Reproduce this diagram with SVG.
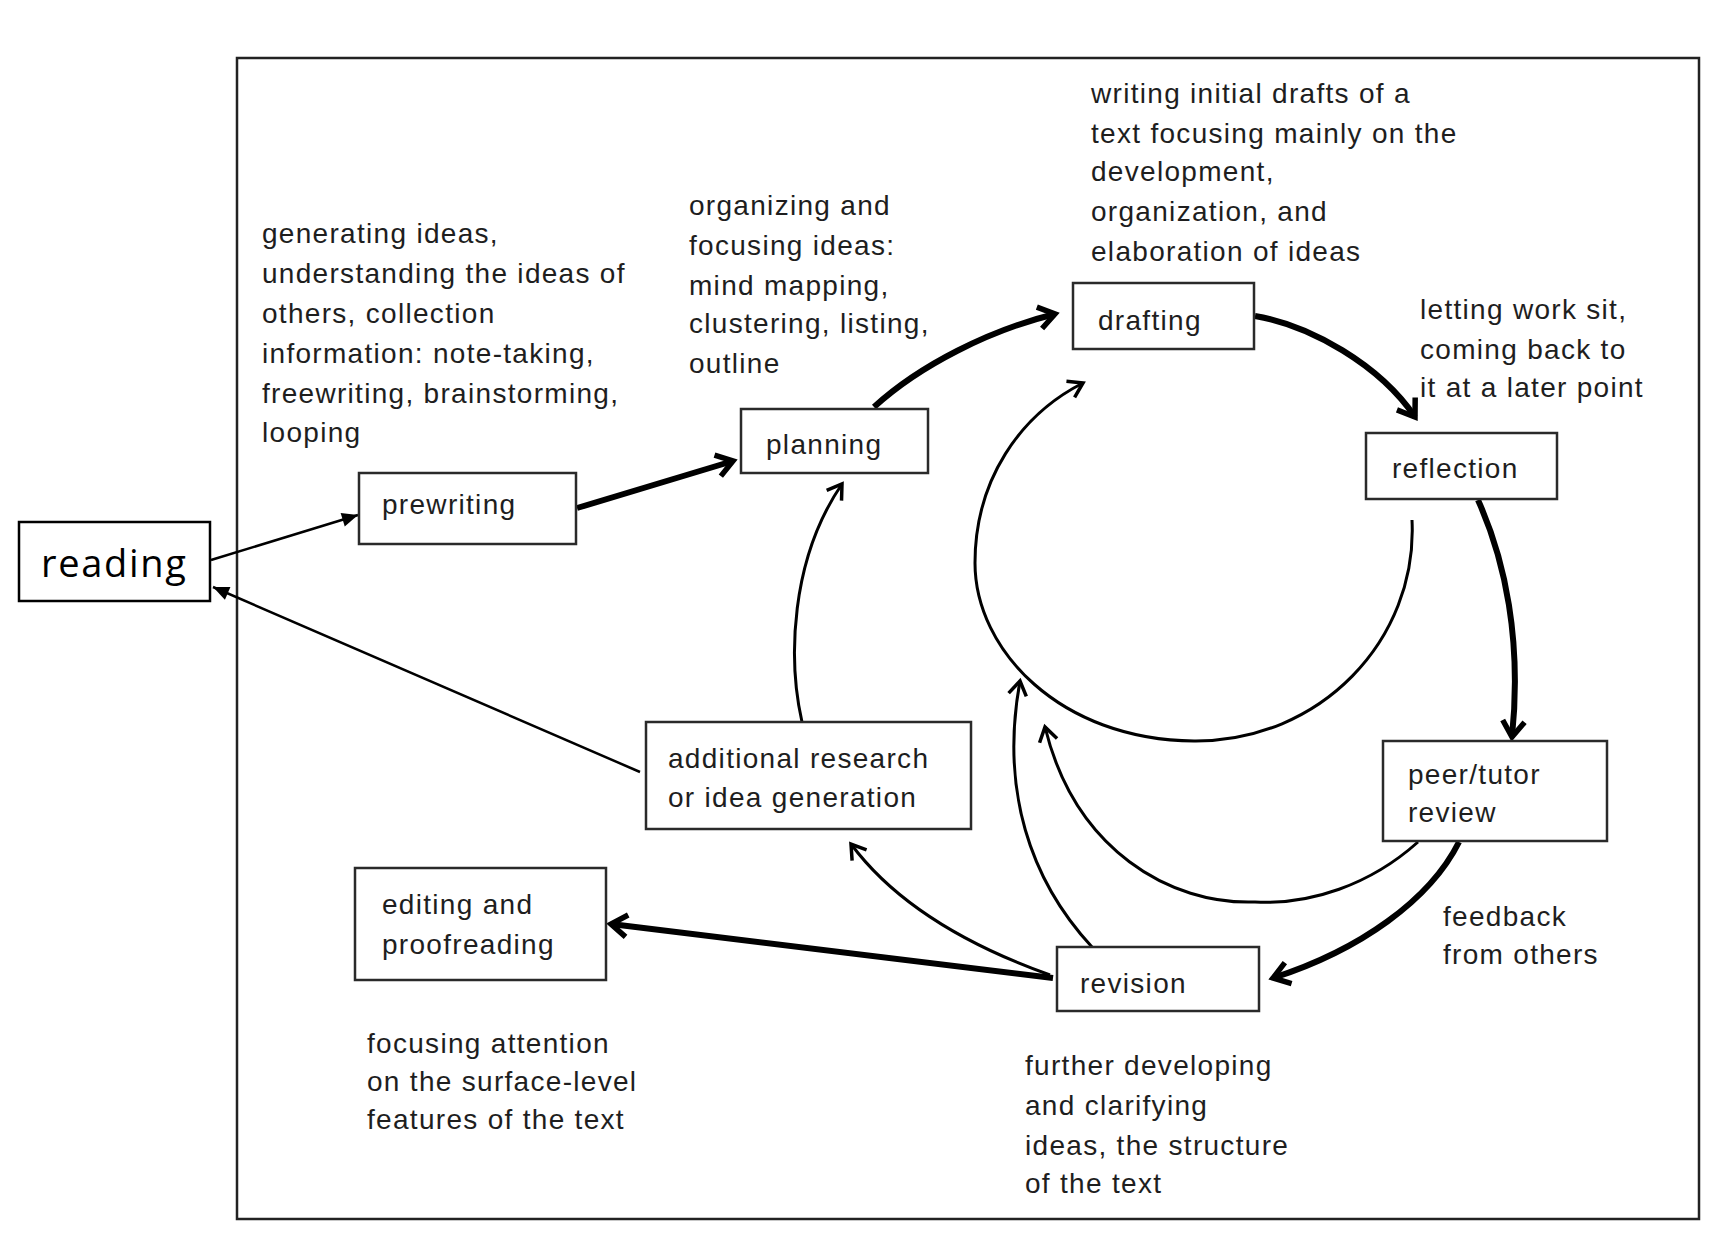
<svg xmlns="http://www.w3.org/2000/svg" width="1728" height="1250" viewBox="0 0 1728 1250">
<defs>
<style>
.t{font-family:"Liberation Sans",Arial,sans-serif;font-size:28px;letter-spacing:1.3px;fill:#1e1e1e}
.box{fill:#fff;stroke:#2a2a2a;stroke-width:2.5}
.thick{fill:none;stroke:#000;stroke-width:6}
.thin{fill:none;stroke:#000;stroke-width:3}
.fine{fill:none;stroke:#000;stroke-width:2.5}
</style>
<marker id="vthick" markerUnits="userSpaceOnUse" markerWidth="40" markerHeight="40" refX="0" refY="0" viewBox="-20 -20 40 40" orient="auto" overflow="visible">
<path d="M -16 -11 L 0 0 L -16 11" fill="none" stroke="#000" stroke-width="5.5"/>
</marker>
<marker id="vthin" markerUnits="userSpaceOnUse" markerWidth="40" markerHeight="40" refX="0" refY="0" viewBox="-20 -20 40 40" orient="auto" overflow="visible">
<path d="M -14 -9 L 0 0 L -14 9" fill="none" stroke="#000" stroke-width="3.5"/>
</marker>
<marker id="tri" markerUnits="userSpaceOnUse" markerWidth="40" markerHeight="40" refX="0" refY="0" viewBox="-20 -20 40 40" orient="auto" overflow="visible">
<path d="M -16 -7 L 0 0 L -16 7 z" fill="#000"/>
</marker>
</defs>
<rect width="1728" height="1250" fill="#fff"/>
<rect id="frame" x="237" y="58" width="1462" height="1161" fill="none" stroke="#222" stroke-width="2.5"/>

<g id="descriptions">
<text class="t" x="262" y="243">generating ideas,</text>
<text class="t" x="262" y="283">understanding the ideas of</text>
<text class="t" x="262" y="323">others, collection</text>
<text class="t" x="262" y="363">information: note-taking,</text>
<text class="t" x="262" y="403">freewriting, brainstorming,</text>
<text class="t" x="262" y="442">looping</text>

<text class="t" x="689" y="215">organizing and</text>
<text class="t" x="689" y="255">focusing ideas:</text>
<text class="t" x="689" y="295">mind mapping,</text>
<text class="t" x="689" y="333">clustering, listing,</text>
<text class="t" x="689" y="373">outline</text>

<text class="t" x="1091" y="103">writing initial drafts of a</text>
<text class="t" x="1091" y="143">text focusing mainly on the</text>
<text class="t" x="1091" y="181">development,</text>
<text class="t" x="1091" y="221">organization, and</text>
<text class="t" x="1091" y="261">elaboration of ideas</text>

<text class="t" x="1420" y="319">letting work sit,</text>
<text class="t" x="1420" y="359">coming back to</text>
<text class="t" x="1420" y="397">it at a later point</text>

<text class="t" x="1443" y="926">feedback</text>
<text class="t" x="1443" y="964">from others</text>

<text class="t" x="1025" y="1075">further developing</text>
<text class="t" x="1025" y="1115">and clarifying</text>
<text class="t" x="1025" y="1155">ideas, the structure</text>
<text class="t" x="1025" y="1193">of the text</text>

<text class="t" x="367" y="1053">focusing attention</text>
<text class="t" x="367" y="1091">on the surface-level</text>
<text class="t" x="367" y="1129">features of the text</text>
</g>

<g id="connectors">
<path class="fine" d="M 211 560 L 358 515" marker-end="url(#tri)"/>
<path class="fine" d="M 640 772 L 213 587" marker-end="url(#tri)"/>
<path class="thick" d="M 577 508 L 733 461" marker-end="url(#vthick)"/>
<path class="thick" d="M 874 407 C 920 365, 990 330, 1055 314" marker-end="url(#vthick)"/>
<path class="thick" d="M 1255 316 C 1310 325, 1380 365, 1415 417" marker-end="url(#vthick)"/>
<path class="thick" d="M 1478 500 C 1505 560, 1522 640, 1512 737" marker-end="url(#vthick)"/>
<path class="thick" d="M 1459 842 C 1430 900, 1360 950, 1273 978" marker-end="url(#vthick)"/>
<path class="thick" d="M 1053 978 L 611 924" marker-end="url(#vthick)"/>
<path class="thin" d="M 1418 842 C 1370 885, 1310 905, 1255 902 C 1170 905, 1075 850, 1045 727" marker-end="url(#vthin)"/>
<path class="thin" d="M 1092 947 C 1030 880, 1000 790, 1020 681" marker-end="url(#vthin)"/>
<path class="thin" d="M 1050 975 C 980 950, 900 910, 851 844" marker-end="url(#vthin)"/>
<path class="thin" d="M 802 722 C 788 660, 790 560, 842 484" marker-end="url(#vthin)"/>
<path class="thin" d="M 1412 520 C 1418 640, 1320 742, 1194 741 C 1060 740, 975 650, 975 563 C 975 480, 1020 415, 1083 383" marker-end="url(#vthin)"/>
</g>

<g id="reading">
<rect x="19" y="522" width="191" height="79" fill="#fff" stroke="#000" stroke-width="2.5"/>
<text x="41" y="577" font-family="'Open Sans','Noto Sans',sans-serif" font-size="38" textLength="145" fill="#000">reading</text>
</g>
<g id="prewriting">
<rect class="box" x="359" y="473" width="217" height="71"/>
<text class="t" x="382" y="514">prewriting</text>
</g>
<g id="planning">
<rect class="box" x="741" y="409" width="187" height="64"/>
<text class="t" x="766" y="454">planning</text>
</g>
<g id="drafting">
<rect class="box" x="1073" y="283" width="181" height="66"/>
<text class="t" x="1098" y="330">drafting</text>
</g>
<g id="reflection">
<rect class="box" x="1366" y="433" width="191" height="66"/>
<text class="t" x="1392" y="478">reflection</text>
</g>
<g id="peer-tutor-review">
<rect class="box" x="1383" y="741" width="224" height="100"/>
<text class="t" x="1408" y="784">peer/tutor</text>
<text class="t" x="1408" y="822">review</text>
</g>
<g id="revision">
<rect class="box" x="1057" y="947" width="202" height="64"/>
<text class="t" x="1080" y="993">revision</text>
</g>
<g id="additional-research">
<rect class="box" x="646" y="722" width="325" height="107"/>
<text class="t" x="668" y="768">additional research</text>
<text class="t" x="668" y="807">or idea generation</text>
</g>
<g id="editing">
<rect class="box" x="355" y="868" width="251" height="112"/>
<text class="t" x="382" y="914">editing and</text>
<text class="t" x="382" y="954">proofreading</text>
</g>
</svg>
